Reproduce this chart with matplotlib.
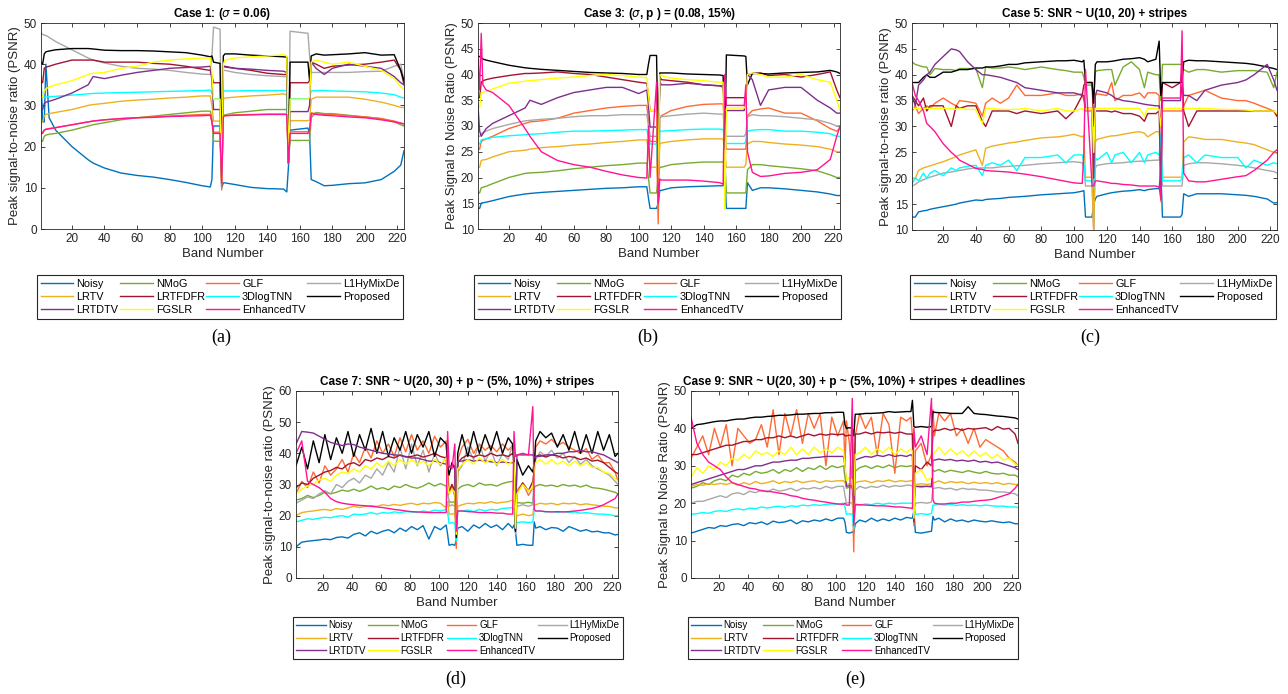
import numpy as np
import matplotlib
matplotlib.use('Agg')
import matplotlib.pyplot as plt

plt.rcParams['font.family'] = ['Liberation Sans', 'DejaVu Sans']
plt.rcParams['mathtext.fontset'] = 'dejavusans'

METHODS = ['Noisy', 'NMoG', 'GLF', 'L1HyMixDe', 'LRTV', 'LRTFDFR',
           '3DlogTNN', 'Proposed', 'LRTDTV', 'FGSLR', 'EnhancedTV']
COLORS = ['#0072BD', '#77AC30', '#FF6A33', '#A8A8A8', '#EDB120', '#A2142F',
          '#00FFFF', '#000000', '#7E2F8E', '#FFFF00', '#FF1493']

BANDS_AB = [1, 2, 3, 4, 6, 10,
            20, 30, 33, 40, 50, 60, 70, 80, 90, 100,
            105, 106, 107, 111, 112, 113, 114,
            120, 130, 140, 150, 152, 153, 154,
            165, 166, 167, 170, 175, 180, 190, 200, 210, 218, 222, 224]

BANDS_C = [1, 3, 5, 8, 10, 12, 15,
           20, 25, 28, 30, 35, 40, 44, 46, 50, 55,
           60, 65, 70, 80, 90, 95, 100,
           105, 106, 107, 111, 112, 113, 114,
           120, 123, 125, 130, 135, 140, 143, 145, 150,
           152, 153, 154, 160, 165, 166, 167,
           170, 175, 180, 190, 200, 205, 210, 218, 222, 224]

BANDS_DE = [1, 5, 9, 13, 17, 21, 25, 29, 33, 37, 41, 45, 49, 53, 57, 61, 65, 69, 73, 77, 81, 85, 89, 93, 97, 101, 105,
            106, 107, 109, 111, 112, 113,
            116, 120, 124, 128, 132, 136, 140, 144, 148, 151,
            152, 153, 154, 158, 162, 165, 166,
            167, 170, 174, 178, 182, 186, 190, 194, 198, 202, 206, 210, 214, 218, 222, 224]

# Case 1
CASE1 = {
    'Noisy': [37, 26, 26, 40, 27, 24, 20, 16.8, 16, 14.8, 13.6, 13, 12.6, 12, 11.3, 10.5,
              10.2, 12, 25, 25, 10, 11.2, 11.2, 10.8, 10.1, 9.8, 9.7, 9, 15, 24,
              24.5, 23, 12, 11.5, 10.5, 10.6, 11, 11.2, 12, 14, 15.5, 19],
    'NMoG': [21.3, 21.3, 22.5, 22.8, 23, 23.2, 24, 25, 25.3, 25.8, 26.5, 27, 27.4, 27.8, 28.2, 28.6,
             28.6, 27, 21.3, 21.3, 12, 27.5, 27.7, 28.2, 28.6, 29, 29, 29, 16, 21.5,
             21.5, 21.5, 27, 28.3, 28, 28, 27.6, 27.2, 26.8, 26, 25.3, 25],
    'GLF': [23.5, 23.5, 24, 24.2, 24.4, 24.6, 25.3, 26, 26.2, 26.5, 26.8, 27, 27.2, 27.4, 27.6, 27.8,
            27.8, 26, 23.5, 23.5, 9.5, 27.3, 27.5, 27.7, 27.8, 27.9, 27.9, 27.9, 16, 23.6,
            23.6, 23.8, 28.2, 28, 27.8, 27.8, 27.5, 27.2, 26.8, 26.2, 25.7, 25.5],
    'L1HyMixDe': [47.5, 47.3, 47, 47, 46.5, 45.5, 43.5, 41.5, 41, 40.3, 39.5, 39, 38.8, 38.5, 38, 37.6,
                  37.5, 42, 49, 48.5, 15, 38.5, 38.5, 38, 37.5, 37.2, 37, 37, 16, 48,
                  47.5, 42, 38, 38, 38, 38, 38, 38.2, 38.3, 39.5, 40, 36],
    'LRTV': [26, 26, 27.5, 27.8, 28, 28.3, 29, 30, 30.2, 30.5, 31, 31.3, 31.5, 31.8, 32, 32.3,
             32.3, 30, 26.2, 26.2, 11, 31.5, 31.8, 32, 32.3, 32.5, 32.8, 32.5, 16, 26.3,
             26.3, 26.5, 31.5, 32, 32, 32, 32, 31.5, 30.8, 30, 29.5, 29.5],
    'LRTFDFR': [36, 35.5, 39, 39.3, 39.5, 40, 41, 41, 41, 40.5, 40.5, 40.5, 40.2, 40, 39.5, 38.8,
                38.5, 37, 35.5, 35.5, 14, 39.5, 39.5, 39, 38.5, 37.8, 37.5, 37.5, 16, 35.5,
                35.5, 36, 40.5, 40, 39, 39.5, 39.8, 40, 40.5, 41, 38.5, 35],
    '3DlogTNN': [32, 32, 32, 32, 32.1, 32.2, 32.5, 32.8, 32.9, 33, 33.1, 33.2, 33.3, 33.4, 33.5, 33.6,
                 33.7, 33, 31.6, 31.6, 13, 33.5, 33.5, 33.5, 33.6, 33.6, 33.6, 33.6, 16, 31.6,
                 31.6, 32, 33.5, 33.6, 33.6, 33.5, 33.4, 33.3, 33, 32.6, 32, 31.8],
    'Proposed': [40.5, 40, 42.5, 43, 43.2, 43.5, 43.8, 43.8, 43.7, 43.4, 43.3, 43.3, 43.2, 43, 42.8, 42.2,
                 41.8, 42, 40.5, 40.2, 14, 42, 42.5, 42.5, 42.2, 42, 41.8, 41.7, 16, 40.5,
                 40.5, 36, 42, 42.5, 42.2, 42.3, 42.5, 42.8, 42.2, 42.3, 38.5, 36],
    'LRTDTV': [29, 29, 30.5, 30.8, 31, 31.5, 33, 35, 37, 36.5, 37.3, 38, 38.5, 39, 39.2, 39.3,
               39.5, 36, 29, 29, 13, 39.5, 39.3, 39, 38.8, 38.5, 38.3, 38, 16, 28.5,
               28.5, 30, 40.5, 39, 37.5, 39, 40, 39.5, 39, 37, 35.5, 35],
    'FGSLR': [32, 32, 33.5, 34, 34.5, 35, 36, 37.5, 37.8, 38, 39, 39.5, 40.5, 41, 41.3, 41.5,
              41.5, 38, 31.5, 31.5, 12, 40, 41, 41.5, 41.8, 42, 42.3, 42, 16, 31.5,
              31.5, 32, 40.5, 41, 40.5, 40, 40.5, 39.5, 38.5, 36.5, 34.5, 34],
    'EnhancedTV': [23.2, 23.2, 24, 24.2, 24.3, 24.6, 25.3, 26, 26.2, 26.5, 26.8, 27, 27.1, 27.3, 27.4, 27.5,
                   27.6, 26, 23.2, 23.2, 11, 27.3, 27.5, 27.6, 27.7, 27.8, 27.8, 27.8, 16, 23.2,
                   23.2, 24, 28, 27.8, 27.6, 27.5, 27.2, 27, 26.5, 26, 25.7, 25.5],
}

# Case 3
CASE3 = {
    'Noisy': [14, 14, 15, 15.1, 15.2, 15.5, 16.3, 16.8, 16.9, 17.1, 17.3, 17.5, 17.7, 17.9, 18, 18.2,
              18.2, 16, 14, 14, 15, 17.5, 17.5, 18, 18.2, 18.3, 18.4, 18.4, 21, 14,
              14, 14, 19, 17.5, 18, 18, 17.8, 17.5, 17.2, 16.8, 16.5, 16.5],
    'NMoG': [17, 17, 18, 18.1, 18.3, 18.8, 20, 20.8, 20.9, 21, 21.3, 21.7, 22, 22.3, 22.5, 22.8,
             22.8, 20, 17, 17, 20, 22, 22, 22.5, 22.8, 23, 23, 23, 24, 17,
             17, 17, 21.5, 22.5, 22.5, 22.3, 22, 21.7, 21.3, 20.5, 20, 20],
    'GLF': [25.5, 25.5, 27, 27.2, 27.5, 28, 29.5, 30.5, 30.8, 31, 31.5, 32.5, 33, 33.5, 33.8, 34,
            34, 31, 27, 27, 11, 31.5, 32, 33, 33.8, 34.2, 34.3, 34.3, 30, 25.5,
            25.5, 25.5, 32, 33, 33.3, 33.5, 32.5, 32.5, 31, 29.5, 29, 29.5],
    'L1HyMixDe': [28, 28, 28.5, 28.7, 29, 29.5, 30.3, 31, 31.1, 31.3, 31.5, 31.8, 32, 32, 32.2, 32.2,
                  32.2, 30, 28, 28, 20, 31.8, 31.8, 32, 32.3, 32.5, 32.3, 32.3, 29, 28,
                  28, 28.5, 31.8, 32.2, 32, 32, 31.8, 31.5, 31.2, 30.5, 30, 30],
    'LRTV': [22, 22, 23.3, 23.4, 23.5, 24, 25, 25.3, 25.5, 25.8, 26, 26.3, 26.5, 26.8, 27, 27.3,
             27.3, 25, 22, 22, 19, 26.5, 26.7, 27, 27.3, 27.5, 27.5, 27.5, 25, 22,
             22, 22.5, 26.5, 27, 27, 26.8, 26.5, 26.3, 26, 25.5, 25, 25],
    'LRTFDFR': [35.5, 35.5, 38.5, 38.8, 39, 39.3, 39.8, 40.2, 40.2, 40.3, 40.5, 40.2, 40, 39.5, 39, 38.5,
                38.3, 36, 33, 33, 20, 39.5, 39, 38.8, 38.5, 38, 37.8, 37.8, 34, 35.5,
                35.5, 35.5, 40, 40.2, 40.3, 39.8, 40, 39.5, 40, 40.5, 37, 35.5],
    '3DlogTNN': [26.5, 26.5, 27.3, 27.4, 27.5, 27.8, 28.1, 28.3, 28.4, 28.5, 28.8, 29, 29, 29.1, 29.2, 29.3,
                 29.3, 28, 26.5, 26.5, 20, 29, 29, 29.1, 29.3, 29.4, 29.4, 29.3, 27, 26.6,
                 26.6, 27, 29, 29.2, 29.3, 29.3, 29, 29, 28.8, 28.5, 28, 28],
    'Proposed': [43.5, 43.5, 43.3, 43, 42.8, 42.5, 41.8, 41.3, 41.2, 41, 40.8, 40.6, 40.4, 40.3, 40.2, 40,
                 40, 42, 43.7, 43.7, 24.3, 40.3, 40.3, 40.3, 40.1, 40, 39.9, 39.8, 25.5, 43.8,
                 43.6, 43.5, 38, 40.2, 40.2, 40.1, 40.3, 40.4, 40.5, 40.8, 40.5, 40.2],
    'LRTDTV': [34, 29, 28, 28.5, 29.5, 30.5, 32, 33.5, 35, 34.2, 35.5, 36.5, 37, 37.5, 37.5, 36.3,
               37, 34, 29.8, 29.8, 25, 38.5, 38, 38, 38.3, 38, 37.8, 37.5, 33, 33,
               33, 36, 40, 39, 34, 37, 37.5, 37.5, 35, 33.5, 32.5, 32.5],
    'FGSLR': [33.5, 33.5, 36.5, 36.6, 36.7, 37.2, 38.3, 38.7, 38.8, 39, 39.3, 39.5, 39.8, 40, 39.8, 39.5,
              39.4, 36, 33, 33, 20, 40, 39.8, 39.3, 39, 38.8, 38.5, 38.5, 14, 33.5,
              33.5, 34, 40, 40.3, 40, 39.5, 39.5, 40, 39, 38.5, 35, 33],
    'EnhancedTV': [43, 37, 48, 38, 37, 36.5, 34, 29.5, 28, 25, 23.3, 22.5, 22, 21.2, 20.5, 20,
                   19.9, 30, 20, 38.5, 15, 19.7, 19.5, 19.5, 19.5, 19.3, 19, 18.7, 40, 34,
                   34, 38, 25, 21, 20.2, 20.3, 20.8, 21, 21.5, 23.5, 28, 30],
}

# Case 5
CASE5 = {
    'Noisy': [12.5, 12.5, 13.5, 13.7, 13.8, 14, 14.2,
              14.5, 14.8, 15, 15.2, 15.5, 15.8, 15.7, 15.9, 16, 16.1,
              16.3, 16.4, 16.5, 16.8, 17, 17.1, 17.2,
              17.5, 17.6, 12.5, 12.5, 15, 16, 16.5,
              17, 17.2, 17.3, 17.5, 17.6, 17.8, 17.6, 17.8, 18,
              18, 22, 12.5, 12.5, 12.5, 13, 17,
              16.5, 17, 17, 17, 16.8, 16.7, 16.5, 16, 15.2, 15.3],
    'NMoG': [42.5, 42, 41.8, 41.5, 41.5, 40, 41.2,
             41, 41, 40.8, 41.2, 41.2, 41.2, 37.5, 41.5, 41.3, 41.3,
             41.5, 41.3, 41, 41.5, 41, 40.8, 40.5,
             40.5, 39.5, 38, 38, 35, 40.5, 40.8,
             41, 41, 38, 41.5, 42.5, 41, 37.5, 40.5, 40,
             40, 35, 42, 42, 42, 42, 41,
             40.5, 41, 41, 40.5, 40.8, 40.8, 40.8, 40.5, 37.5, 40.5],
    'GLF': [33, 34, 32.5, 33.5, 34, 33.5, 34.5,
            35.5, 34.5, 34, 35, 34.8, 34.5, 32, 34.5, 35.5, 34.5,
            35.5, 38, 36, 36, 36.5, 36, 36,
            36.3, 35, 33, 33, 9.5, 36, 36.3,
            36, 38.5, 35, 36, 36, 36.5, 35.5, 36.5, 36.5,
            36, 15.5, 33, 33, 33, 33, 34,
            36, 36.5, 37, 35.5, 35, 35, 34.5, 33.5, 33, 32],
    'L1HyMixDe': [18.5, 18.8, 19.3, 19.7, 20, 20.2, 20.5,
                  21, 21.2, 21.4, 21.5, 21.8, 22, 22, 22, 22, 22.2,
                  22.3, 22.4, 22.5, 22.8, 23, 23.1, 23.2,
                  23, 22, 18.5, 18.5, 10, 22, 22.5,
                  22.8, 22.9, 22.9, 23, 23.2, 23.3, 23.3, 23.4, 23.5,
                  23.5, 28.5, 18.5, 18.5, 18.5, 18.5, 22.5,
                  22.8, 23, 23, 22.8, 22.5, 22.3, 22, 21.5, 21.3, 21],
    'LRTV': [20, 20, 21.5, 22, 22.2, 22.4, 22.7,
             23.2, 23.8, 24.2, 24.5, 25, 25.5, 22.5, 25.8, 26.2, 26.5,
             26.8, 27, 27.3, 27.8, 28, 28.2, 28.5,
             28, 28.3, 20.2, 20.2, 10, 27, 27.5,
             28, 28.2, 28.2, 28.5, 28.8, 29, 28.7, 28, 29,
             29, 25, 20.2, 20.2, 20.2, 20.2, 27,
             28, 27.8, 27.5, 27.5, 27, 26.8, 26.5, 25.5, 25, 24.8],
    'LRTFDFR': [36, 35, 34, 35.5, 33, 34, 34,
                34, 30, 34, 33.5, 34, 34, 31, 30, 33, 33,
                33, 32.5, 33, 32.5, 33, 31.5, 33,
                36, 38, 38.5, 38.5, 30, 33, 33,
                33, 32.8, 33, 32.5, 32.5, 32, 31, 32.5, 32.5,
                33, 30, 38.5, 37.5, 38.5, 41, 33,
                30, 33, 33, 33, 33, 33, 33, 33, 33, 32],
    '3DlogTNN': [19, 20, 19.5, 21, 20, 21, 21.5,
                 20.5, 22, 21.5, 22, 22.3, 22.5, 20.5, 22.5, 23, 22.5,
                 23.5, 21.5, 24, 24, 24.5, 23, 24.5,
                 24.5, 23, 19.5, 19.5, 18, 24, 23.5,
                 25, 23, 24.5, 25, 23, 25, 23, 24.5, 25,
                 24.5, 28.5, 19.5, 19.5, 19.5, 20, 24,
                 24.5, 23, 24.5, 24, 24, 22, 23.5, 22.5, 23, 22.8],
    'Proposed': [38.5, 38.5, 38.5, 39.5, 40, 39.5, 39.5,
                 40.5, 40.5, 40.8, 41, 41, 41.3, 41.3, 41.5, 41.5, 41.7,
                 42, 42, 42.3, 42.5, 42.7, 42.7, 42.8,
                 42.5, 42.8, 38.5, 38.5, 34.5, 42, 42.5,
                 42.5, 42.6, 42.7, 43, 43.1, 43.3, 43, 42.5, 43,
                 46.5, 36, 38.5, 38.5, 38.5, 38.5, 42.5,
                 42.8, 42.7, 42.7, 42.5, 42.3, 42.2, 42, 41.5, 41.2, 41],
    'LRTDTV': [36, 34, 38, 39, 40, 40.5, 42,
               43.5, 45, 44.8, 44.5, 42.5, 41, 40, 40, 39.8, 39.5,
               39, 38.5, 37.5, 37, 36.5, 36.5, 36.5,
               36, 36, 33.5, 33.5, 20, 36, 37,
               36.5, 36, 35.5, 35, 34.8, 34.5, 34.3, 34.2, 34,
               34, 16, 35, 35, 35, 38, 36,
               36, 35, 37, 38, 38.5, 39, 40, 42, 39, 37],
    'FGSLR': [33.5, 33.5, 33.5, 33.5, 33.5, 33.5, 33.5,
              33.5, 33.5, 33.3, 33.5, 33.3, 33.3, 30.5, 33.5, 33.5, 33.3,
              33.3, 33.3, 33.5, 33, 33.5, 33, 33,
              33.5, 33, 33.5, 33.5, 25, 33.5, 33.5,
              33.5, 33.5, 33.5, 33.5, 33.5, 33.5, 32, 33.5, 33.5,
              33.3, 30, 33.5, 33.5, 33.5, 33.5, 33.5,
              33.5, 33.5, 33.5, 33.3, 33.3, 33.2, 33, 33, 33, 32.5],
    'EnhancedTV': [38.5, 36, 35, 33, 30.6, 30, 29,
                   26.7, 25, 24.2, 23.5, 22.7, 21.9, 21.7, 21.5, 21.4, 21.3,
                   21.2, 21, 20.8, 20.3, 19.7, 19.4, 19.1,
                   19, 25, 41, 18.5, 18.5, 19.5, 19.5,
                   19.2, 19, 19, 18.8, 18.7, 18.5, 18.5, 18.5, 18.5,
                   18.3, 16, 35.5, 35.5, 35.5, 48.5, 21,
                   19.5, 19.3, 19.3, 19.8, 20.3, 20.5, 21.5, 23.5, 25, 25.5],
}

# Case 7
CASE7 = {
    'Noisy': [10, 11.5, 11.8, 12, 12.2, 12.5, 12.3, 13, 13.2, 12.8, 14, 14.5, 13.5, 15, 14.2, 15, 15.5, 14.5,
              16, 15, 16.5, 15.5, 16.8, 12.5, 16.5, 15.5, 17,
              14, 10.5, 10.8, 10.5, 12, 16,
              16.5, 15, 17, 16, 17.5, 16.2, 17, 15.5, 17.5, 16,
              17, 15, 10.5, 10.8, 10.5, 10.5, 18,
              16, 16.5, 15.5, 16.2, 16, 15, 16.5, 15.8, 15, 15.5, 14.8, 15, 14.5, 14.5, 13.8, 14],
    'NMoG': [25, 25.5, 26.5, 25.8, 26.5, 27.5, 27, 27.5, 28.2, 27.8, 28.5, 27.8, 28.5, 29.5, 28.5, 29, 28.3, 29.5,
             29, 30, 29.2, 28.8, 29.5, 30.5, 29.5, 30.3, 29.5,
             27, 24.5, 24.3, 24.5, 15, 28.5,
             29.5, 30, 29.3, 30.5, 29.8, 30, 29.5, 30.3, 30.8, 31,
             31, 24, 24.2, 24, 24.3, 24, 29,
             29.5, 30, 29.5, 29.8, 29.3, 30, 29.5, 29.8, 29.2, 29.8, 29, 28.8, 28.5, 28, 27.5, 27],
    'GLF': [27, 31, 29, 34, 30.5, 36, 33, 35, 38, 34, 40, 37, 42, 38.5, 44, 40, 43, 39,
            45, 40.5, 46, 41, 44, 40, 45.5, 42, 44,
            36, 28, 30, 26, 9.5, 38,
            42, 44.5, 40, 43, 41, 42.5, 40.5, 43, 41, 42.5,
            38, 16, 28, 30.5, 26.5, 29, 34,
            42, 44, 43, 44.5, 42.5, 43.5, 42, 41, 40, 41.5, 38, 39.5, 37, 37, 34, 31],
    'L1HyMixDe': [24, 25, 26, 25.5, 27, 28, 27, 30, 29, 31, 32, 30.5, 33, 32, 35, 33, 37, 34,
                  42, 35, 43, 36, 41, 34, 40, 36, 39,
                  30, 23, 23.5, 23, 12, 34,
                  36, 42, 38, 43, 37.5, 41, 36, 40, 38, 43,
                  40, 14, 23, 23.5, 23, 23.5, 35,
                  38, 40.5, 39, 41, 38.5, 40, 37, 39, 36.5, 38, 36, 35, 34, 33, 31, 30],
    'LRTV': [20, 21, 21.3, 21.5, 21.8, 22, 21.7, 22.3, 22, 22.5, 23, 22.6, 23, 23.2, 23, 23.5, 23.2, 23.6,
             23.3, 23.7, 24, 23.5, 24, 23.8, 24.2, 24, 22.5,
             24.5, 20.5, 20.5, 20.8, 14, 23,
             23.5, 24, 23.8, 24.2, 24, 24.5, 24, 24.3, 24.5, 25,
             24.5, 18, 20, 20.5, 20, 20.3, 23.5,
             23.5, 24, 23.7, 24, 23.5, 24, 23.8, 24, 23.5, 23.8, 23.5, 23.3, 23, 23, 22.5, 22.5],
    'LRTFDFR': [29, 30.5, 30, 32, 33, 34, 34.5, 35.5, 35, 36.5, 37, 36, 38, 37.5, 38.5, 38, 39, 38.5,
                39.5, 38.8, 39, 39.5, 38.8, 39.3, 40, 39, 38.5,
                31, 27, 30, 28, 13, 37,
                38.5, 39.5, 38.8, 39.5, 39, 40, 39.2, 39.5, 39, 40,
                39, 15, 27, 30.5, 28, 31, 35,
                39, 39.5, 38.8, 39.5, 39.2, 38.5, 39, 38.7, 38, 38.5, 37.5, 37.8, 37, 35.5, 34, 33.5],
    '3DlogTNN': [18, 18.5, 19, 18.8, 19.2, 19.5, 19.3, 19.8, 20, 19.5, 20.5, 20.3, 20.5, 21, 20.5, 21, 20.8, 21.2,
                 21, 21.3, 21.2, 21, 21.5, 21.2, 21.8, 21.5, 22,
                 21, 17.5, 17.8, 17.5, 12, 21.5,
                 21.5, 21.8, 21.3, 22, 21.5, 22, 21.8, 22.3, 22.5, 22.5,
                 22, 16, 17.8, 18, 17.8, 18, 22,
                 21.5, 21.5, 21.2, 21.3, 21, 21.3, 21, 21.2, 20.8, 21, 20.7, 20.5, 20.5, 20.3, 20, 20],
    'Proposed': [36, 42, 35, 44, 37, 46, 38, 45, 40, 47, 39, 46, 41, 48, 40, 47, 39, 45,
                 41, 47, 40, 46, 42, 47, 39, 45, 43,
                 36, 33, 37, 35, 13, 40,
                 46, 39, 47, 40, 46, 41, 47, 40, 45, 43,
                 35, 15, 38, 33, 36, 34, 37,
                 44, 47, 45, 46.5, 42, 46, 41, 47, 40, 46, 40, 47, 41, 46, 39, 40],
    'LRTDTV': [43, 47, 46.8, 46.5, 45.5, 44.5, 43.5, 43, 42.5, 43, 42.8, 42, 41.5, 41, 40.5, 40, 39.8, 39.5,
               39.3, 39, 38.5, 38.5, 38, 37.5, 37.5, 37, 36.5,
               36, 35.5, 36, 36, 16, 37.5,
               37.5, 38, 37.5, 37.8, 37.5, 37.3, 37, 37.2, 37, 37,
               37, 16, 39.5, 39.5, 39.5, 39.5, 38.5,
               39, 39, 39.5, 39.5, 40, 40, 40.5, 40.5, 41, 40.5, 40.5, 40, 39.5, 38.5, 37.5, 37],
    'FGSLR': [27, 28.5, 29.5, 30, 31.5, 32, 31, 33, 34, 33.5, 35, 34, 36, 35, 37, 35.5, 37.5, 36,
              38, 36.5, 38, 36.5, 37.5, 36, 38, 36.5, 38.5,
              30, 27, 28.5, 27.5, 14, 35,
              36.5, 38, 36.5, 38.5, 37, 38, 36.5, 38, 36.5, 37.5,
              37, 16, 27, 30, 28, 29, 34,
              37, 38, 36.5, 38, 36.5, 37.5, 36, 37.5, 36, 37, 35.5, 35.5, 34, 33.5, 32, 31],
    'EnhancedTV': [40, 44, 31, 30, 29, 27.5, 25.5, 24.5, 24, 23.7, 23.5, 23.3, 23.2, 23, 22.8, 22.6, 22.3, 22,
                   21.8, 21.5, 21.3, 21.2, 21.1, 21, 21, 21, 21,
                   47, 36, 35, 43, 15, 21.5,
                   21.5, 21.3, 21.2, 21, 21, 21, 20.8, 20.8, 20.5, 20.5,
                   47, 39, 39.5, 40, 39.5, 55, 22,
                   21.5, 21.5, 21.3, 21.2, 21.3, 21.2, 21.3, 21.5, 21.7, 22, 22.3, 22.8, 23.5, 24.5, 25.5, 27],
}

# Case 9
CASE9 = {
    'Noisy': [12, 12.5, 13, 13.5, 13.3, 14, 13.8, 14.3, 14.5, 14, 14.8, 14.5, 15, 14.3, 15.2, 14.8, 15, 15.5,
              14.5, 15.3, 15, 15.5, 15.2, 15.8, 15.3, 16, 16,
              15, 12.2, 12, 12.3, 12, 14.5,
              15.5, 15, 16, 15.2, 15.8, 15.3, 16, 15.5, 16.2, 16,
              16, 18, 12.2, 12, 12.3, 12.5, 16.5,
              15.5, 16, 15, 15.8, 15.2, 15.5, 15, 15.5, 15.2, 15, 15.3, 15, 14.8, 15, 14.5, 14.5],
    'NMoG': [24, 24.5, 25.5, 25, 26, 26.5, 26, 27.5, 27, 28, 27.5, 28.5, 28, 28.3, 29, 28, 29, 28.5,
             29.5, 28.5, 29.5, 29, 30, 29, 30, 29.5, 30,
             27, 24, 24.3, 24, 23, 28.5,
             29.5, 30, 29.3, 30, 29.5, 30.2, 29.5, 30, 29.8, 30,
             30, 24, 24.5, 24.3, 24.5, 24.3, 29,
             28.5, 29, 28.3, 28.8, 28.5, 28.2, 28.7, 28.3, 28, 28.5, 28, 27.8, 28, 27.5, 27.5, 27],
    'GLF': [32, 35, 38, 33, 40, 35, 41, 30, 40, 38, 36, 37, 41, 35, 45, 33, 44, 38,
            45, 36, 44, 40, 44, 30, 43, 38, 42,
            30, 42, 36, 25, 7, 38,
            44, 40, 43, 33, 44, 41, 28, 43, 42, 43,
            38, 14, 34, 36, 30, 33, 45,
            38, 44, 42, 44, 38, 40, 36, 40, 35, 37, 36, 35, 34, 32, 31, 30],
    'L1HyMixDe': [20, 20.5, 20.5, 21, 21.5, 22, 21.5, 22.5, 22.8, 22.3, 23.2, 22.8, 23.5, 23, 23.8, 23.2, 23.5, 24,
                  23.3, 24, 23.8, 24.2, 23.8, 24.5, 24, 24.5, 24.5,
                  22, 20, 20.2, 20, 14, 23.5,
                  24.5, 24, 24.5, 24.2, 24.8, 24.3, 24.7, 24.5, 24.8, 24.8,
                  24.5, 18, 20, 20.2, 20, 20.3, 24,
                  24, 24.2, 23.8, 24, 23.5, 24, 23.7, 23.8, 23.5, 23.5, 23.3, 23, 23, 22.8, 22.5, 22],
    'LRTV': [24.5, 25, 24.8, 25.2, 25, 25.3, 25, 25.5, 24.8, 25.5, 25, 25.8, 25.2, 25.5, 26, 25.3, 25.8, 25.5,
             26, 25.5, 25.8, 26, 25.5, 26, 25.8, 26, 26,
             25.5, 25, 25.2, 25, 14, 25.5,
             25.8, 26, 25.5, 26, 25.8, 26.2, 25.7, 26, 25.8, 26,
             26, 20, 25, 25.2, 25, 25.2, 25.5,
             25.5, 26, 25.3, 25.8, 25.5, 25.7, 25.2, 25.6, 25.3, 25.5, 25.2, 25.5, 25, 25.3, 25, 25],
    'LRTFDFR': [33, 33, 33.5, 34, 34.5, 35, 35.5, 35.5, 36, 36.5, 36.5, 37, 37, 37.5, 37.5, 38, 37.5, 38,
                37.5, 38, 38.5, 38, 38.5, 38.2, 38.5, 38.3, 38.5,
                38, 38, 38.2, 38, 20, 38.5,
                38.5, 39, 38.5, 39, 38.8, 39, 38.7, 39, 38.5, 38.5,
                38.5, 15, 30, 29, 31, 30, 39,
                39.5, 39.5, 40, 39.5, 40, 39.5, 40, 39.8, 40, 40.2, 39.5, 40.5, 39.8, 40, 38.5, 36],
    '3DlogTNN': [17, 17.2, 17.5, 17.3, 17.8, 18, 17.8, 18.3, 18.5, 18.2, 18.7, 18.5, 19, 18.7, 19, 19.2, 18.9, 19.3,
                 19.1, 19.5, 19.3, 19.6, 19.4, 19.7, 19.8, 19.7, 20,
                 19, 17, 17.2, 17, 13, 19.5,
                 19.5, 19.8, 19.6, 20, 19.7, 20, 19.8, 20, 20, 20,
                 20, 21.5, 17, 17.2, 17, 17.2, 19.5,
                 19.5, 19.7, 19.5, 19.7, 19.4, 19.6, 19.4, 19.5, 19.3, 19.5, 19.3, 19.2, 19.2, 19, 19, 18.8],
    'Proposed': [40, 41, 41.2, 41.5, 41.8, 42, 42, 42.3, 42.5, 42.5, 42.8, 43, 43, 43.2, 43.3, 43.5, 43.5, 43.6,
                 43.8, 43.8, 43.9, 44, 44, 44.2, 44.2, 44.3, 44.3,
                 41, 40, 40.2, 40, 38, 43.8,
                 43.8, 44, 44, 44.1, 44.2, 44.5, 44.3, 44.4, 44.5, 44.5,
                 47.5, 40.5, 40.3, 40.5, 40.3, 40.5, 44.5,
                 44.3, 44.2, 44.2, 44, 44, 44, 45.8, 44, 43.8, 43.7, 43.5, 43.3, 43.2, 43, 42.8, 42.5],
    'LRTDTV': [25, 25.5, 26, 26.5, 27, 27.5, 28, 28.5, 29, 29, 29.5, 30, 30, 30.5, 31, 31, 31.3, 31.5,
               31.5, 32, 32, 32.2, 32.3, 32.5, 32.5, 32.5, 32.5,
               30, 24.5, 24.7, 24.5, 20, 31.5,
               32, 32.5, 32.3, 32.8, 32.5, 33, 32.5, 32.8, 32.5, 33,
               32.5, 20, 24.5, 24.5, 24.5, 24.5, 31.5,
               31.5, 31.8, 31.5, 31.7, 31.3, 31.5, 31.2, 31.5, 31, 31.2, 30.8, 31, 30.5, 30, 29.5, 29],
    'FGSLR': [27, 29.5, 28, 30, 29, 31, 30, 32, 31.5, 33, 32, 34, 33, 33.5, 32.5, 34, 33, 35,
              33, 34.5, 33, 35, 33.5, 34.5, 33.5, 35, 34,
              30, 26, 27, 26, 22, 33,
              33.5, 35, 33, 34.5, 33.5, 35, 33, 34.5, 33.5, 34.5,
              34, 16, 28, 29, 26, 27, 33,
              33.5, 35, 33, 34.5, 33, 34, 32.5, 34, 32.5, 33.5, 32, 33, 31.5, 32, 30.5, 30],
    'EnhancedTV': [43, 36, 33, 31, 30, 29, 27, 25.5, 25, 24.5, 24, 23.8, 23.3, 23.2, 23, 22.7, 22.5, 22,
                   21.8, 21.3, 21, 20.8, 20.5, 20.3, 20, 19.8, 19.7,
                   20, 19.5, 19.5, 48, 14, 19.7,
                   19.6, 19.5, 19.4, 19.3, 19.3, 19.2, 19, 19, 18.8, 18.7,
                   18.5, 40, 35, 38, 33, 48, 21,
                   20, 19.8, 19.8, 20, 20, 20.3, 20.3, 20.5, 20.7, 20.8, 21, 21.5, 22, 22.5, 24, 25],
}

W, H = 1288, 694
fig = plt.figure(figsize=(W / 100, H / 100), dpi=100)


def px_axes(left, right, top, bottom):
    return fig.add_axes([left / W, 1 - bottom / H, (right - left) / W, (bottom - top) / H])


def draw(ax, bands, data, title, ylabel, ylim, ystep):
    lines = []
    for name, col in zip(METHODS, COLORS):
        vals = data[name]
        assert len(vals) == len(bands), (title, name, len(vals))
        ln, = ax.plot(bands, vals, color=col, lw=1.0, label=name)
        lines.append(ln)
    ax.set_xlim(1, 224)
    ax.set_xticks(np.arange(20, 221, 20))
    ax.set_ylim(*ylim)
    ax.set_yticks(np.arange(ylim[0], ylim[1] + 0.1, ystep))
    ax.tick_params(direction='in', top=True, right=True, length=3, width=0.6,
                   labelsize=8.5, colors='#262626', pad=3)
    for s in ax.spines.values():
        s.set_color('#262626')
        s.set_linewidth(0.6)
    ax.set_title(title, fontsize=8.5, fontweight='bold', pad=4)
    ax.set_xlabel('Band Number', fontsize=9.5, color='#262626', labelpad=2)
    ax.set_ylabel(ylabel, fontsize=9.5, color='#262626', labelpad=2)
    return lines


def add_legend(lines, left, right, top, size):
    # matplotlib fills legend columns first, so reorder to get the row-wise layout
    order = [0, 4, 8, 1, 5, 9, 2, 6, 10, 3, 7]
    leg = fig.legend([lines[i] for i in order], [METHODS[i] for i in order],
                     loc='upper left', ncol=4, mode='expand',
                     bbox_to_anchor=(left / W, 1 - top / H, (right - left) / W, 0.0),
                     fontsize=size, handlelength=3.0, handletextpad=0.3,
                     labelspacing=0.28, borderpad=0.35, columnspacing=0.5,
                     borderaxespad=0.0,
                     frameon=True, fancybox=False, framealpha=1)
    leg.get_frame().set_edgecolor('#262626')
    leg.get_frame().set_linewidth(0.8)


SIG = 'Peak signal-to-noise ratio (PSNR)'
SIG2 = 'Peak Signal to Noise Ratio (PSNR)'

ax = px_axes(41, 404, 23, 229)
ln = draw(ax, BANDS_AB, CASE1, r'Case 1: ($\sigma$ = 0.06)', SIG, (0, 50), 10)
add_legend(ln, 37, 403, 275, 7.8)

ax = px_axes(478, 840, 23, 229)
ln = draw(ax, BANDS_AB, CASE3, r'Case 3: ($\sigma$, p ) = (0.08, 15%)', SIG2, (10, 50), 5)
add_legend(ln, 474, 841, 275, 7.8)

ax = px_axes(912, 1277, 23, 230)
ln = draw(ax, BANDS_C, CASE5, 'Case 5: SNR ~ U(10, 20) + stripes', SIG, (10, 50), 5)
add_legend(ln, 910, 1276, 275, 7.8)

ax = px_axes(296, 618, 391, 578)
ln = draw(ax, BANDS_DE, CASE7, 'Case 7: SNR ~ U(20, 30) + p ~ (5%, 10%) + stripes', SIG, (0, 60), 10)
add_legend(ln, 293, 623, 617, 7.0)

ax = px_axes(691, 1018, 391, 578)
ln = draw(ax, BANDS_DE, CASE9, 'Case 9: SNR ~ U(20, 30) + p ~ (5%, 10%) + stripes + deadlines', SIG2, (0, 50), 10)
add_legend(ln, 688, 1018, 617, 7.0)

for lab, x, y in [('(a)', 221, 337), ('(b)', 648, 337), ('(c)', 1090, 337),
                  ('(d)', 456, 679), ('(e)', 855, 679)]:
    fig.text(x / W, 1 - y / H, lab, ha='center', va='center', fontsize=13,
             family=['Liberation Serif', 'DejaVu Serif'])

fig.savefig('out.png', dpi=100)
